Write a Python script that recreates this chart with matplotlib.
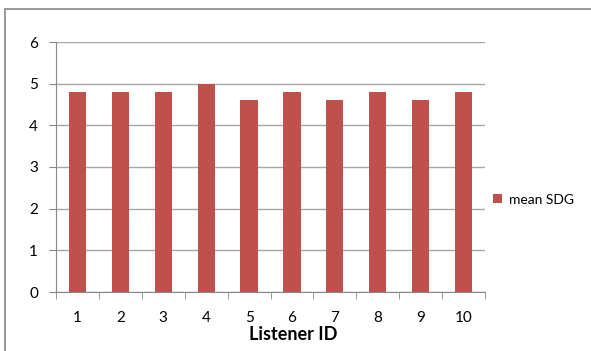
import numpy as np
import matplotlib.pyplot as plt
from matplotlib.patches import Rectangle

# data
listeners = ['1', '2', '3', '4', '5', '6', '7', '8', '9', '10']
mean_sdg = [4.8, 4.8, 4.8, 5.0, 4.6, 4.8, 4.6, 4.8, 4.6, 4.8]

plt.rcParams['font.family'] = ['Lato', 'DejaVu Sans']

fig = plt.figure(figsize=(5.91, 3.51), dpi=100)
fig.patch.set_facecolor('white')

# outer chart frame (right/bottom edges cropped off in the original)
fig.patches.append(Rectangle((5/591, -10/351), 600/591, 352/351, transform=fig.transFigure,
                             fill=False, edgecolor='#888888', linewidth=1.2))

ax = fig.add_axes([56/591, 59/351, 429/591, 250/351])
x = np.arange(1, len(listeners) + 1)
ax.bar(x, mean_sdg, width=0.4, color='#C0504D', label='mean SDG', zorder=3)

ax.set_xlim(0.5, len(listeners) + 0.5)
ax.set_ylim(0, 6)
ax.set_yticks(range(0, 7))
ax.yaxis.grid(True, color='#a6a6a6', linewidth=1, zorder=0)
ax.set_xticks(x)
ax.set_xticklabels(listeners)
ax.set_xticks(np.arange(0.5, len(listeners) + 1), minor=True)
ax.tick_params(axis='x', which='major', length=0, pad=14, labelsize=11)
ax.tick_params(axis='x', which='minor', length=5, color='#888888', direction='out')
ax.tick_params(axis='y', length=5, color='#888888', pad=8, labelsize=11)

for s in ['top', 'right']:
    ax.spines[s].set_visible(False)
for s in ['left', 'bottom']:
    ax.spines[s].set_color('#888888')

fig.text(293/591, 1 - 335/351, 'Listener ID', ha='center', va='center',
         fontsize=13, fontweight='bold')

ax.legend(loc='center left', bbox_to_anchor=(1.0, 0.37), frameon=False, borderaxespad=0.2,
          fontsize=10, handlelength=0.6, handleheight=0.6, handletextpad=0.5)

fig.savefig('out.png', dpi=100)
